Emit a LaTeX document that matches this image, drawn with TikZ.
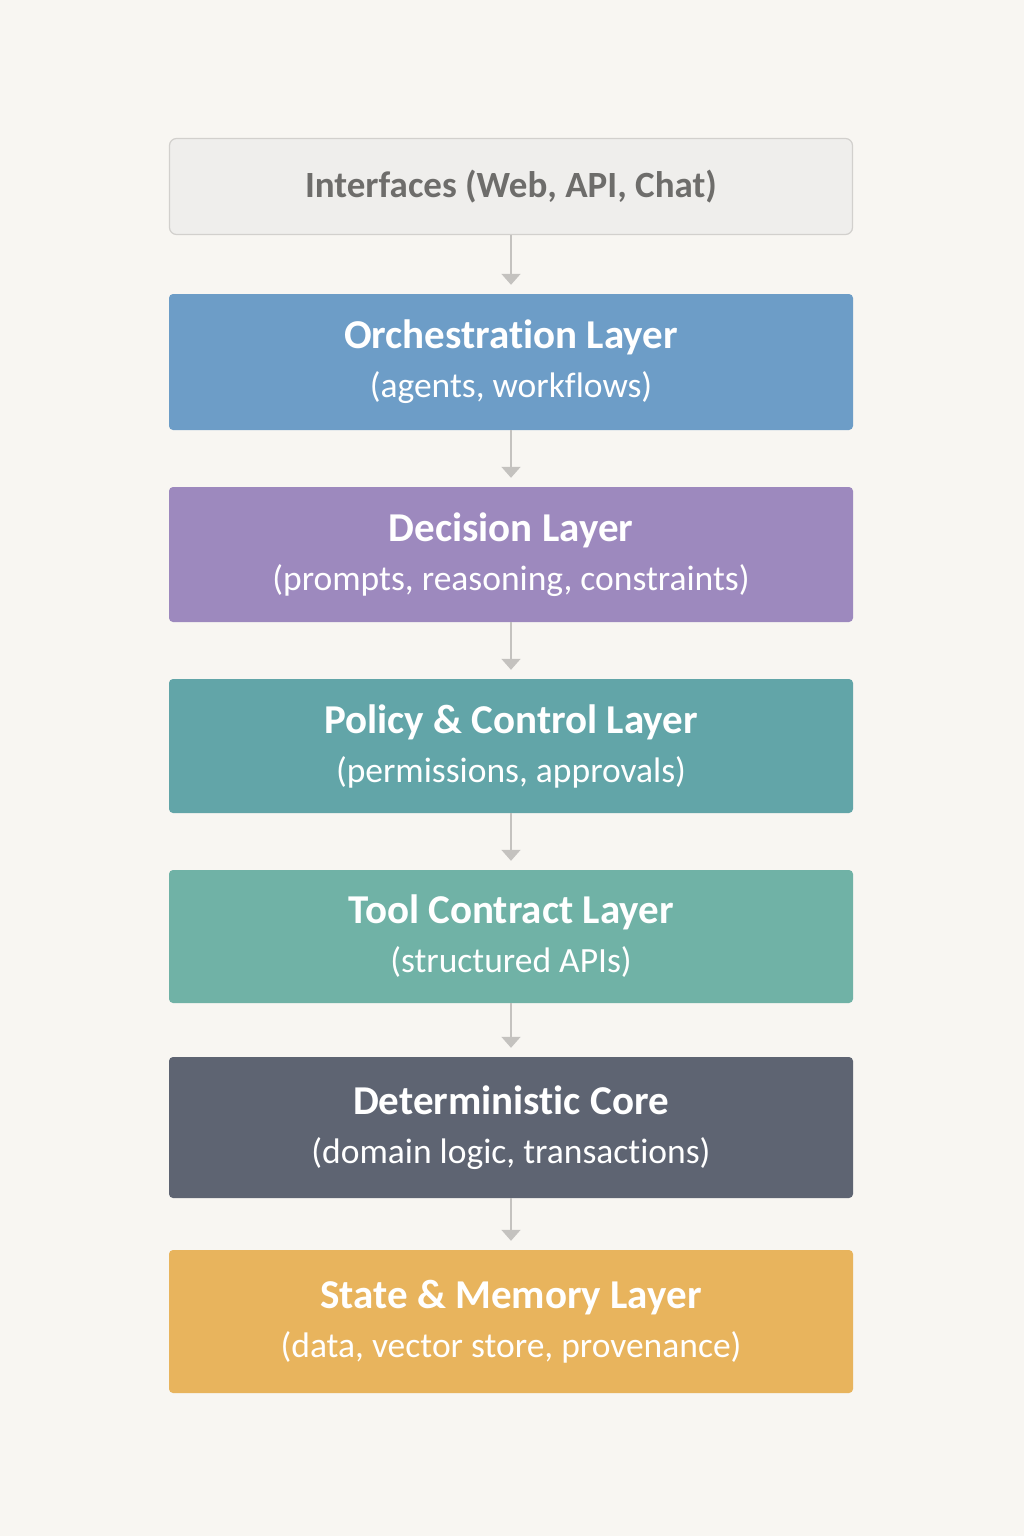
\documentclass[tikz,border=0pt]{standalone}
\usepackage{fontspec}
\setmainfont{Carlito}[Ligatures=NoCommon]
\usetikzlibrary{positioning,arrows.meta}
\definecolor{paper}{HTML}{F8F6F2}
\definecolor{ifacefill}{HTML}{EFEEEC}
\definecolor{ifaceline}{HTML}{D2D0CD}
\definecolor{ifacetext}{HTML}{6E6D6B}
\definecolor{orchblue}{HTML}{6D9DC7}
\definecolor{decpurple}{HTML}{9D89BE}
\definecolor{polteal}{HTML}{62A5A8}
\definecolor{toolteal}{HTML}{70B2A6}
\definecolor{coreslate}{HTML}{5E6472}
\definecolor{stategold}{HTML}{E8B45D}
\definecolor{arrowgray}{HTML}{C4C2BF}
\newcommand\ltitle[1]{{\fontsize{41}{49}\selectfont\bfseries #1}}

\begin{document}
\begin{tikzpicture}[x=1pt,y=-1pt,
  layer/.style={rectangle,rounded corners=4pt,minimum width=684pt,text=white,align=center,
    font=\fontsize{35.5}{49}\selectfont},
  iface/.style={rectangle,rounded corners=7pt,draw=ifaceline,line width=1.2pt,fill=ifacefill,
    minimum width=683pt,minimum height=96pt,text=ifacetext,font=\fontsize{37}{40}\selectfont\bfseries},
  arrow/.style={draw=arrowgray,line width=1.6pt,-{Triangle[width=19pt,length=11pt]},shorten >=9pt}]
  \fill[paper] (0,0) rectangle (1024,1536);
  \useasboundingbox (0,0) rectangle (1024,1536);

  \node[iface] (l0) at (511,186.5) {Interfaces (Web, API, Chat)};

  \node[layer,fill=orchblue,minimum height=136pt] (l1) at (511,362)
    {\ltitle{Orchestration Layer}\\(agents, workflows)};
  \node[layer,fill=decpurple,minimum height=135pt] (l2) at (511,554.5)
    {\ltitle{Decision Layer}\\(prompts, reasoning, constraints)};
  \node[layer,fill=polteal,minimum height=134pt] (l3) at (511,746)
    {\ltitle{Policy \& Control Layer}\\(permissions, approvals)};
  \node[layer,fill=toolteal,minimum height=133pt] (l4) at (511,936.5)
    {\ltitle{Tool Contract Layer}\\(structured APIs)};
  \node[layer,fill=coreslate,minimum height=141pt] (l5) at (511,1127.5)
    {\ltitle{Deterministic Core}\\(domain logic, transactions)};
  \node[layer,fill=stategold,minimum height=143pt] (l6) at (511,1321.5)
    {\ltitle{State \& Memory Layer}\\(data, vector store, provenance)};

  \foreach \i in {0,...,5} {
    \draw[arrow] (l\i.south) -- (l\inteval{\i+1}.north);
  }

\end{tikzpicture}
\end{document}
